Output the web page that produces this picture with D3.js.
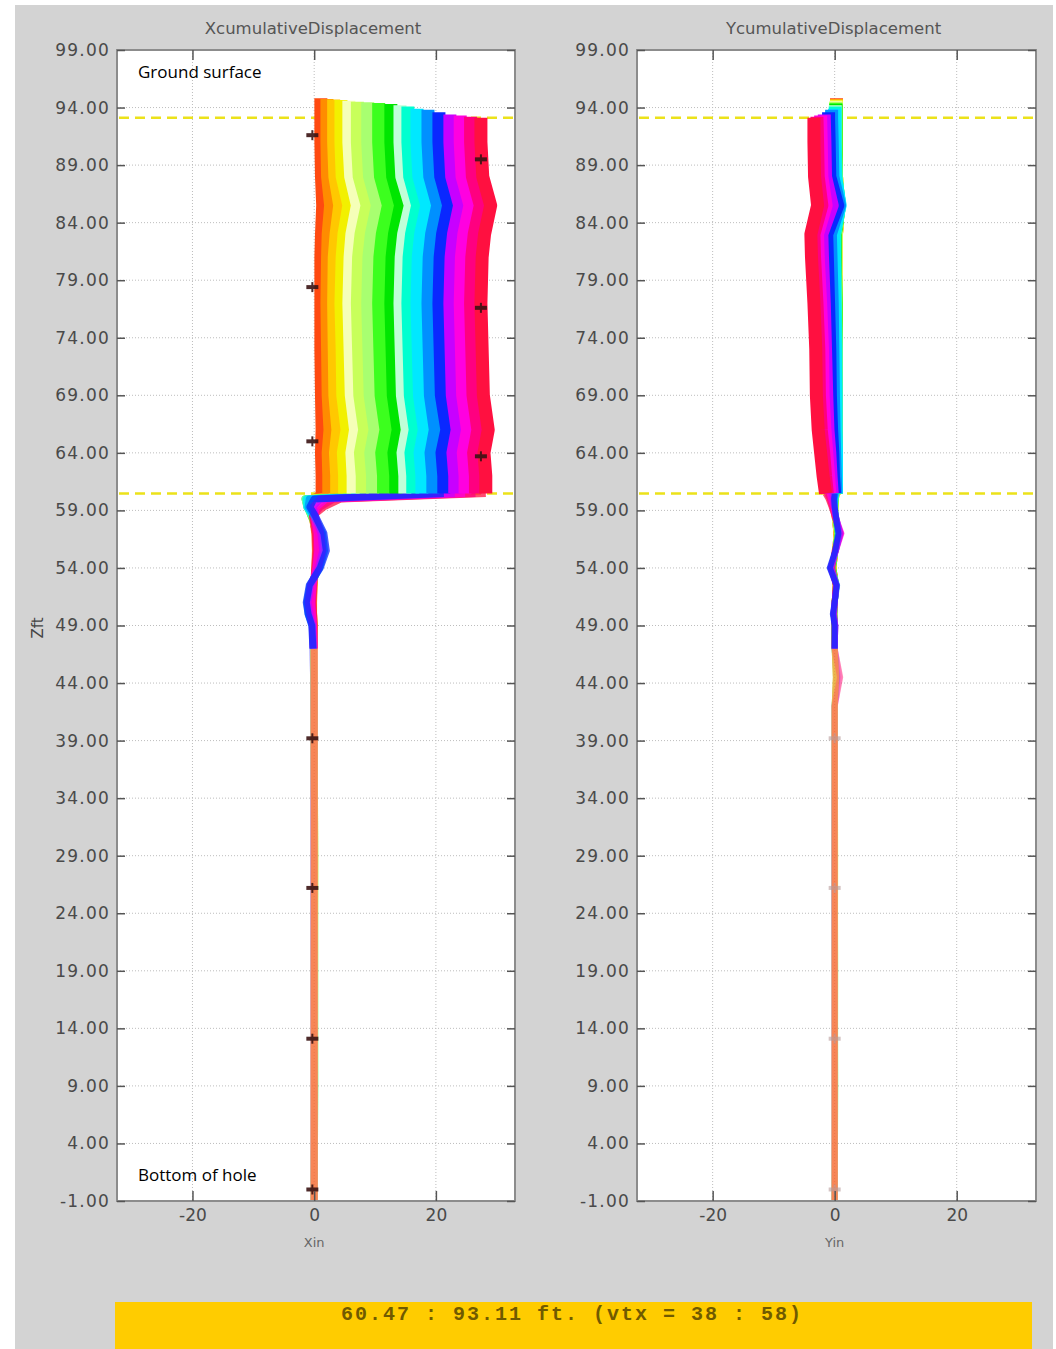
<!DOCTYPE html>
<html><head><meta charset="utf-8">
<script src="https://cdn.jsdelivr.net/npm/d3@7"></script>
<style>body{margin:0;background:#fff;}svg{display:block}</style>
</head><body>
<svg id="c" width="1056" height="1349"></svg>
<script>
// ---------- data ----------
const yTickValues = [99,94,89,84,79,74,69,64,59,54,49,44,39,34,29,24,19,14,9,4,-1];
const yTickLabels = ["99.00","94.00","89.00","84.00","79.00","74.00","69.00","64.00","59.00","54.00","49.00","44.00","39.00","34.00","29.00","24.00","19.00","14.00","9.00","4.00","-1.00"];
const xTickValues = [-20,0,20];
const xTickLabels = ["-20","0","20"];
const shearDepths = [93.11, 60.47];
const bannerText = "60.47 : 93.11 ft. (vtx = 38 : 58)";

const seriesColors = ["#ff4a10","#ff8c00","#ffc800","#f2f000","#f5ffb8","#c8ff5a","#a8ff70","#3cff1e","#00e600",
  "#c0ffd8","#00ffd0","#00e8ff","#0090ff","#0a28ff","#c800ff","#ff00e0","#ff0080","#ff1040"];
const seriesTopDepth = [94.8,94.75,94.7,94.65,94.6,94.5,94.45,94.4,94.3,94.2,94.1,93.9,93.8,93.6,93.4,93.3,93.2,93.11];
// stacking order of the readings below the shear zone
const wiggleOrder = [0,1,2,3,4,5,6,7,8,9,10,11,17,16,15,12,14,13];
const straightOrder = [13,14,12,11,10,9,8,7,6,5,15,16,4,3,2,1,0,17];

const upperDepths = [93.11,91,88,85.5,83,81,77,73,69,66,64,62,60.47];
const lowerDepths = [60.0,59.3,58.5,57,55.5,54,52.5,51,50,49,47,44.5,42,39,29,19,9,-1];

const xUpper = [
  [1.1,1.1,1.2,1.4,1.2,1.1,1.1,1.1,1.2,1.3,1.2,1.3,1.3],
  [2.1,2.1,2.2,2.7,2.3,2.2,2.1,2.2,2.3,2.6,2.3,2.4,2.4],
  [3.2,3.2,3.4,4.2,3.6,3.3,3.2,3.3,3.4,3.9,3.5,3.7,3.7],
  [4.4,4.4,4.6,5.7,4.9,4.6,4.4,4.6,4.7,5.4,4.8,5.0,5.0],
  [5.7,5.7,6.0,7.1,6.2,5.9,5.7,5.9,6.1,6.8,6.2,6.4,6.4],
  [7.1,7.1,7.4,8.7,7.7,7.3,7.1,7.3,7.5,8.3,7.6,7.9,7.9],
  [8.8,8.8,9.1,10.4,9.4,9.0,8.8,9.0,9.2,10.0,9.3,9.6,9.6],
  [10.6,10.6,10.9,12.2,11.2,10.8,10.6,10.8,11.0,11.8,11.1,11.4,11.4],
  [12.6,12.6,12.9,14.2,13.2,12.8,12.6,12.8,13.0,13.8,13.1,13.4,13.4],
  [14.1,14.1,14.4,15.8,14.7,14.3,14.1,14.3,14.5,15.3,14.6,14.9,14.9],
  [15.4,15.4,15.7,17.0,16.0,15.6,15.4,15.6,15.8,16.6,15.9,16.2,16.2],
  [16.9,16.9,17.2,18.5,17.5,17.1,16.9,17.1,17.3,18.1,17.4,17.7,17.7],
  [18.7,18.7,19.0,20.3,19.3,18.9,18.7,18.9,19.1,19.9,19.2,19.5,19.5],
  [20.5,20.5,20.8,22.1,21.1,20.7,20.5,20.7,20.9,21.8,21.0,21.3,21.3],
  [22.3,22.3,22.6,23.9,22.9,22.5,22.3,22.5,22.7,23.5,22.8,23.1,23.1],
  [24.0,24.0,24.3,25.6,24.6,24.2,24.0,24.2,24.4,25.2,24.5,24.8,24.8],
  [25.7,25.7,26.0,27.3,26.3,25.9,25.7,25.9,26.1,26.9,26.2,26.5,26.5],
  [27.4,27.4,27.7,29.0,28.0,27.6,27.4,27.6,27.8,28.6,27.9,28.2,28.2]
];
const xLower = [
  [-0.5,-0.6,-0.3,0.1,0.2,0.1,0.0,-0.1,-0.1,0.0,0.0,0.0,0.0,0.0,0.0,0.0,0.0,0.0],
  [-0.7,-0.7,-0.3,0.2,0.3,0.2,0.0,-0.2,-0.1,0.0,0.0,0.0,0.0,0.0,0.0,0.0,0.0,0.0],
  [-0.9,-0.8,-0.4,0.3,0.4,0.2,-0.1,-0.3,-0.2,-0.1,0.0,0.0,0.0,0.0,0.1,0.0,0.0,0.0],
  [-1.1,-0.9,-0.4,0.4,0.5,0.3,-0.1,-0.4,-0.3,-0.1,0.0,0.0,0.0,0.0,0.1,0.0,0.0,0.0],
  [-1.2,-1.0,-0.5,0.5,0.6,0.3,-0.2,-0.5,-0.3,-0.1,0.0,0.0,0.0,0.0,0.1,0.1,0.0,0.0],
  [-1.3,-1.0,-0.5,0.6,0.7,0.4,-0.2,-0.6,-0.4,-0.1,0.0,0.0,0.0,0.0,0.1,0.1,0.0,0.0],
  [-1.4,-1.1,-0.5,0.7,0.8,0.4,-0.3,-0.7,-0.5,-0.2,-0.1,0.0,0.0,0.0,0.1,0.1,0.1,0.0],
  [-1.5,-1.1,-0.5,0.8,0.9,0.5,-0.3,-0.8,-0.5,-0.2,-0.1,0.0,0.0,0.0,0.1,0.1,0.1,0.0],
  [-1.5,-1.2,-0.4,0.9,1.0,0.5,-0.4,-0.9,-0.6,-0.2,-0.1,0.0,0.0,0.0,0.1,0.1,0.1,0.0],
  [-1.5,-1.2,-0.4,1.0,1.2,0.6,-0.4,-1.0,-0.7,-0.2,-0.1,-0.1,0.0,0.0,0.0,0.1,0.1,0.0],
  [-1.4,-1.2,-0.3,1.1,1.3,0.7,-0.5,-1.0,-0.8,-0.3,-0.1,-0.1,0.0,0.0,0.0,0.0,0.1,0.0],
  [-1.2,-1.2,-0.2,1.2,1.4,0.8,-0.6,-1.1,-0.9,-0.3,-0.1,-0.1,0.0,0.0,0.0,0.0,0.0,0.0],
  [-0.8,-1.0,0.0,1.4,1.7,0.9,-0.7,-1.2,-1.0,-0.3,-0.2,-0.1,0.0,0.0,0.0,0.0,0.0,0.0],
  [0.0,-0.7,0.2,1.6,2.0,1.0,-0.8,-1.3,-1.0,-0.4,-0.2,-0.1,-0.1,0.0,0.0,0.0,0.0,0.0],
  [1.0,-0.2,0.2,1.1,1.4,0.7,-0.6,-1.0,-0.7,-0.3,-0.2,-0.1,0.0,0.0,0.0,0.0,0.0,0.0],
  [2.0,0.4,0.0,0.5,0.6,0.3,-0.2,-0.4,-0.3,-0.1,0.0,0.0,0.0,0.0,0.0,0.0,0.0,0.0],
  [3.2,1.0,-0.2,0.3,0.4,0.2,-0.1,-0.3,-0.2,-0.1,0.0,0.0,0.0,0.0,0.0,0.0,0.0,0.0],
  [4.4,1.6,-0.3,0.2,0.3,0.1,-0.1,-0.2,-0.1,0.0,0.0,0.0,0.0,0.0,0.0,0.0,0.0,0.0]
];
const yUpper = [
  [0.3,0.3,0.3,0.5,0.3,0.3,0.3,0.3,0.3,0.3,0.3,0.3,0.3],
  [0.3,0.3,0.3,0.5,0.3,0.3,0.3,0.3,0.3,0.3,0.3,0.3,0.3],
  [0.3,0.3,0.3,0.6,0.3,0.3,0.3,0.3,0.3,0.3,0.3,0.3,0.3],
  [0.3,0.3,0.3,0.6,0.3,0.2,0.3,0.3,0.3,0.3,0.3,0.3,0.3],
  [0.2,0.2,0.3,0.6,0.2,0.2,0.2,0.3,0.3,0.3,0.3,0.3,0.3],
  [0.2,0.2,0.3,0.7,0.2,0.2,0.2,0.2,0.3,0.3,0.3,0.3,0.3],
  [0.2,0.2,0.2,0.7,0.2,0.1,0.2,0.2,0.2,0.3,0.3,0.3,0.3],
  [0.2,0.2,0.2,0.7,0.1,0.1,0.2,0.2,0.2,0.2,0.3,0.3,0.3],
  [0.2,0.2,0.2,0.8,0.1,0.1,0.2,0.2,0.2,0.2,0.2,0.3,0.3],
  [0.1,0.1,0.2,0.8,0.0,0.0,0.1,0.2,0.2,0.2,0.2,0.2,0.3],
  [0.1,0.1,0.2,0.8,0.0,0.0,0.1,0.2,0.2,0.2,0.2,0.2,0.2],
  [0.0,0.0,0.1,0.9,-0.2,-0.1,0.0,0.1,0.2,0.2,0.3,0.3,0.3],
  [-0.5,-0.4,-0.3,0.8,-0.7,-0.6,-0.4,-0.3,-0.2,-0.1,0.0,0.1,0.2],
  [-1.0,-0.9,-0.8,0.5,-1.3,-1.2,-1.0,-0.8,-0.7,-0.5,-0.3,-0.2,0.0],
  [-1.7,-1.6,-1.5,-0.4,-2.1,-2.0,-1.7,-1.5,-1.3,-1.1,-0.8,-0.6,-0.4],
  [-2.3,-2.2,-2.1,-1.4,-2.8,-2.7,-2.3,-2.0,-1.9,-1.6,-1.3,-1.0,-0.8],
  [-2.9,-2.8,-2.7,-2.1,-3.4,-3.3,-2.9,-2.6,-2.5,-2.2,-1.8,-1.5,-1.2],
  [-3.4,-3.4,-3.3,-2.8,-3.9,-3.8,-3.4,-3.1,-3.0,-2.7,-2.3,-1.9,-1.5]
];
const yLower = [
  [0.2,0.1,0.0,0.3,0.1,-0.2,0.2,0.0,0.0,0.0,0.0,0.2,0.0,0.0,0.0,0.0,0.0,0.0],
  [0.2,0.1,0.0,0.3,0.1,-0.2,0.2,0.0,0.0,0.0,0.0,0.2,0.0,0.0,0.0,0.0,0.0,0.0],
  [0.2,0.1,0.0,0.3,0.1,-0.2,0.2,0.0,0.0,0.0,0.0,0.2,0.0,0.0,0.0,0.0,0.0,0.0],
  [0.2,0.1,0.0,0.4,0.1,-0.2,0.2,0.0,0.0,0.0,0.0,0.2,0.0,0.0,0.1,0.0,0.0,0.0],
  [0.2,0.1,0.0,0.4,0.1,-0.3,0.2,0.0,0.0,0.0,0.0,0.2,0.0,0.0,0.1,0.0,0.0,0.0],
  [0.2,0.1,0.0,0.4,0.1,-0.3,0.2,0.0,0.0,0.0,0.0,0.2,0.0,0.0,0.1,0.1,0.0,0.0],
  [0.2,0.1,0.1,0.5,0.1,-0.3,0.2,0.0,0.0,0.0,0.0,0.2,0.0,0.0,0.0,0.1,0.0,0.0],
  [0.2,0.1,0.1,0.5,0.1,-0.3,0.2,0.0,-0.1,0.0,0.0,0.2,0.0,0.0,0.0,0.1,0.1,0.0],
  [0.1,0.0,0.1,0.5,0.1,-0.3,0.3,0.0,-0.1,0.0,0.0,0.3,0.0,0.0,0.0,0.0,0.1,0.0],
  [0.1,0.0,0.1,0.6,0.1,-0.4,0.3,0.0,-0.1,0.0,0.0,0.3,0.0,0.0,0.0,0.0,0.1,0.0],
  [0.1,0.0,0.1,0.6,0.1,-0.4,0.3,0.0,-0.1,0.0,0.0,0.3,0.0,0.0,0.0,0.0,0.0,0.0],
  [0.1,0.0,0.1,0.7,0.1,-0.5,0.3,0.0,-0.1,0.0,0.0,0.3,0.0,0.0,0.0,0.0,0.0,0.0],
  [0.0,0.0,0.2,0.8,0.2,-0.7,0.4,0.0,-0.2,0.1,0.0,0.4,0.0,0.0,0.0,0.0,0.0,0.0],
  [-0.1,0.0,0.2,0.6,0.1,-0.8,0.3,0.0,-0.3,0.0,0.0,0.3,0.0,0.0,0.0,0.0,0.0,0.0],
  [-0.3,-0.1,0.2,0.9,0.2,-0.7,0.3,0.0,-0.2,0.1,0.0,0.5,0.0,0.0,0.0,0.0,0.0,0.0],
  [-0.6,-0.2,0.1,1.1,0.2,-0.6,0.3,0.0,-0.2,0.1,0.0,0.8,0.0,0.0,0.0,0.0,0.0,0.0],
  [-0.8,-0.4,0.0,1.0,0.1,-0.5,0.2,0.0,-0.1,0.0,0.0,0.9,0.0,0.0,0.0,0.0,0.0,0.0],
  [-1.0,-0.5,0.0,0.8,0.0,-0.4,0.2,0.0,-0.1,0.0,0.0,0.9,0.0,0.0,0.0,0.0,0.0,0.0]
];
// reading markers (value, depth)
const xMarkersDark = [[-0.3,91.6],[-0.3,78.4],[-0.3,65.0],[-0.3,39.2],[-0.3,26.2],[-0.3,13.1],[-0.3,0.0],[27.4,89.5],[27.4,76.6],[27.4,63.7]];
const yMarkersFaint = [[0,39.2],[0,26.2],[0,13.1],[0,0.0]];

// ---------- drawing ----------
const W = 1056, H = 1349;
const svg = d3.select("#c");
svg.append("rect").attr("width", W).attr("height", H).attr("fill", "#fff");
svg.append("rect").attr("x", 15).attr("y", 5).attr("width", 1038).attr("height", 1344).attr("fill", "#d3d3d3");

const y = d3.scaleLinear().domain([-1, 99]).range([1201, 50]);
const xDomain = [-32.4, 33];
const lineGen = (x) => d3.line().x(d => x(d[0])).y(d => y(d[1]));

const panels = [
  {left: 117, right: 515, title: "XcumulativeDisplacement", xlabel: "Xin", upper: xUpper, lower: xLower, markers: xMarkersDark, mcolor: "#3a1414", mop: 0.9},
  {left: 637, right: 1036, title: "YcumulativeDisplacement", xlabel: "Yin", upper: yUpper, lower: yLower, markers: yMarkersFaint, mcolor: "#b89c9c", mop: 0.6}
];

const STRAIGHT_START = 10; // index of 47 ft in lowerDepths

panels.forEach((p, pi) => {
  const x = d3.scaleLinear().domain(xDomain).range([p.left, p.right]);
  const line = lineGen(x);
  const g = svg.append("g");
  const top = y(99), bot = y(-1);

  g.append("rect").attr("x", p.left).attr("y", top).attr("width", p.right - p.left).attr("height", bot - top).attr("fill", "#fff");

  // grid
  g.selectAll(".hg").data(yTickValues).join("line")
    .attr("x1", p.left).attr("x2", p.right).attr("y1", d => y(d)).attr("y2", d => y(d))
    .attr("stroke", "#bdbdbd").attr("stroke-width", 1).attr("stroke-dasharray", "1,2");
  g.selectAll(".vg").data(xTickValues).join("line")
    .attr("x1", d => x(d)).attr("x2", d => x(d)).attr("y1", top).attr("y2", bot)
    .attr("stroke", "#bdbdbd").attr("stroke-width", 1).attr("stroke-dasharray", "1,2");

  // shear zone dashed lines
  g.selectAll(".sh").data(shearDepths).join("line")
    .attr("x1", p.left + 2).attr("x2", p.right - 2).attr("y1", d => y(d)).attr("y2", d => y(d))
    .attr("stroke", "#ece21a").attr("stroke-width", 2.5).attr("stroke-dasharray", "10,6");

  // lower straight part (below 47 ft), translucent so the readings blend
  const gs = g.append("g").attr("opacity", 0.8);
  straightOrder.forEach(k => {
    const L = p.lower[k];
    const pts = [];
    for (let i = STRAIGHT_START; i < lowerDepths.length; i++) pts.push([L[i], lowerDepths[i]]);
    gs.append("path").attr("d", line(pts)).attr("fill", "none").attr("stroke", seriesColors[k])
      .attr("stroke-width", pi === 0 ? 7 : 6).attr("stroke-opacity", 0.3).attr("stroke-linejoin", "round");
  });

  // shear zone and wiggles (60.47 down to 47 ft)
  wiggleOrder.forEach(k => {
    const U = p.upper[k], L = p.lower[k];
    const pts = [[U[U.length - 1], upperDepths[upperDepths.length - 1]]];
    for (let i = 0; i <= STRAIGHT_START; i++) pts.push([L[i], lowerDepths[i]]);
    g.append("path").attr("d", line(pts)).attr("fill", "none").attr("stroke", seriesColors[k])
      .attr("stroke-width", pi === 0 ? 7 : 6).attr("stroke-opacity", 0.75)
      .attr("stroke-linejoin", "round").attr("stroke-linecap", "butt");
  });

  // upper band above the shear zone
  p.upper.forEach((U, k) => {
    const pts = [];
    if (seriesTopDepth[k] > upperDepths[0]) pts.push([U[0], seriesTopDepth[k]]);
    U.forEach((v, i) => pts.push([v, upperDepths[i]]));
    g.append("path").attr("d", line(pts)).attr("fill", "none").attr("stroke", seriesColors[k])
      .attr("stroke-width", 13).attr("stroke-linejoin", "round").attr("stroke-linecap", "butt");
  });

  // markers
  const mk = g.selectAll(".mk").data(p.markers).join("g")
    .attr("transform", d => `translate(${x(d[0])},${y(d[1])})`).attr("opacity", p.mop);
  mk.append("line").attr("x1", -6).attr("x2", 6).attr("y1", 0).attr("y2", 0).attr("stroke", p.mcolor).attr("stroke-width", 4);
  mk.append("line").attr("x1", 0).attr("x2", 0).attr("y1", -5).attr("y2", 5).attr("stroke", p.mcolor).attr("stroke-width", 2);

  // frame
  g.append("rect").attr("x", p.left).attr("y", top).attr("width", p.right - p.left).attr("height", bot - top)
    .attr("fill", "none").attr("stroke", "#8c8c8c").attr("stroke-width", 2);

  // axes
  const ax = (sel) => {
    sel.select(".domain").remove();
    sel.selectAll(".tick line").attr("stroke", "#555").attr("stroke-width", 1.5);
    sel.selectAll("text").attr("fill", "#4a4a4a").style("font-family", "DejaVu Sans, sans-serif").style("font-size", "17px");
  };
  g.append("g").attr("transform", `translate(${p.left},0)`)
    .call(d3.axisLeft(y).tickValues(yTickValues).tickFormat((d, i) => yTickLabels[i]).tickSize(-8).tickPadding(7))
    .call(ax).selectAll("text").style("letter-spacing", "1.2px");
  g.append("g").attr("transform", `translate(${p.right},0)`)
    .call(d3.axisRight(y).tickValues(yTickValues).tickFormat("").tickSize(-8)).call(ax);
  g.append("g").attr("transform", `translate(0,${bot})`)
    .call(d3.axisBottom(x).tickValues(xTickValues).tickFormat((d, i) => xTickLabels[i]).tickSize(-10).tickPadding(8))
    .call(ax);
  g.append("g").attr("transform", `translate(0,${top})`)
    .call(d3.axisTop(x).tickValues(xTickValues).tickFormat("").tickSize(-10)).call(ax);

  // titles / labels
  g.append("text").attr("x", (p.left + p.right) / 2 - 3).attr("y", 34).attr("text-anchor", "middle")
    .attr("fill", "#555").style("font-family", "DejaVu Sans, sans-serif").style("font-size", "16.5px").text(p.title);
  g.append("text").attr("x", x(0)).attr("y", 1247).attr("text-anchor", "middle")
    .attr("fill", "#666").style("font-family", "DejaVu Sans, sans-serif").style("font-size", "13px").text(p.xlabel);
});

// y-axis label
svg.append("text").attr("transform", "translate(43,628) rotate(-90)").attr("text-anchor", "middle")
  .attr("fill", "#444").style("font-family", "DejaVu Sans, sans-serif").style("font-size", "15px").text("Zft");

// annotations
svg.append("text").attr("x", 138).attr("y", 78).attr("fill", "#000")
  .style("font-family", "Open Sans, sans-serif").style("font-size", "17px").text("Ground surface");
svg.append("text").attr("x", 138).attr("y", 1181).attr("fill", "#000")
  .style("font-family", "Open Sans, sans-serif").style("font-size", "17px").text("Bottom of hole");

// status banner
svg.append("rect").attr("x", 115).attr("y", 1302).attr("width", 917).attr("height", 47).attr("fill", "#ffcc00");
svg.append("text").attr("x", 572).attr("y", 1320).attr("text-anchor", "middle").attr("fill", "#705a00")
  .style("font-family", "Liberation Mono, monospace").style("font-size", "20px").style("font-weight", "bold")
  .style("letter-spacing", "2px").text(bannerText);
</script>
</body></html>
